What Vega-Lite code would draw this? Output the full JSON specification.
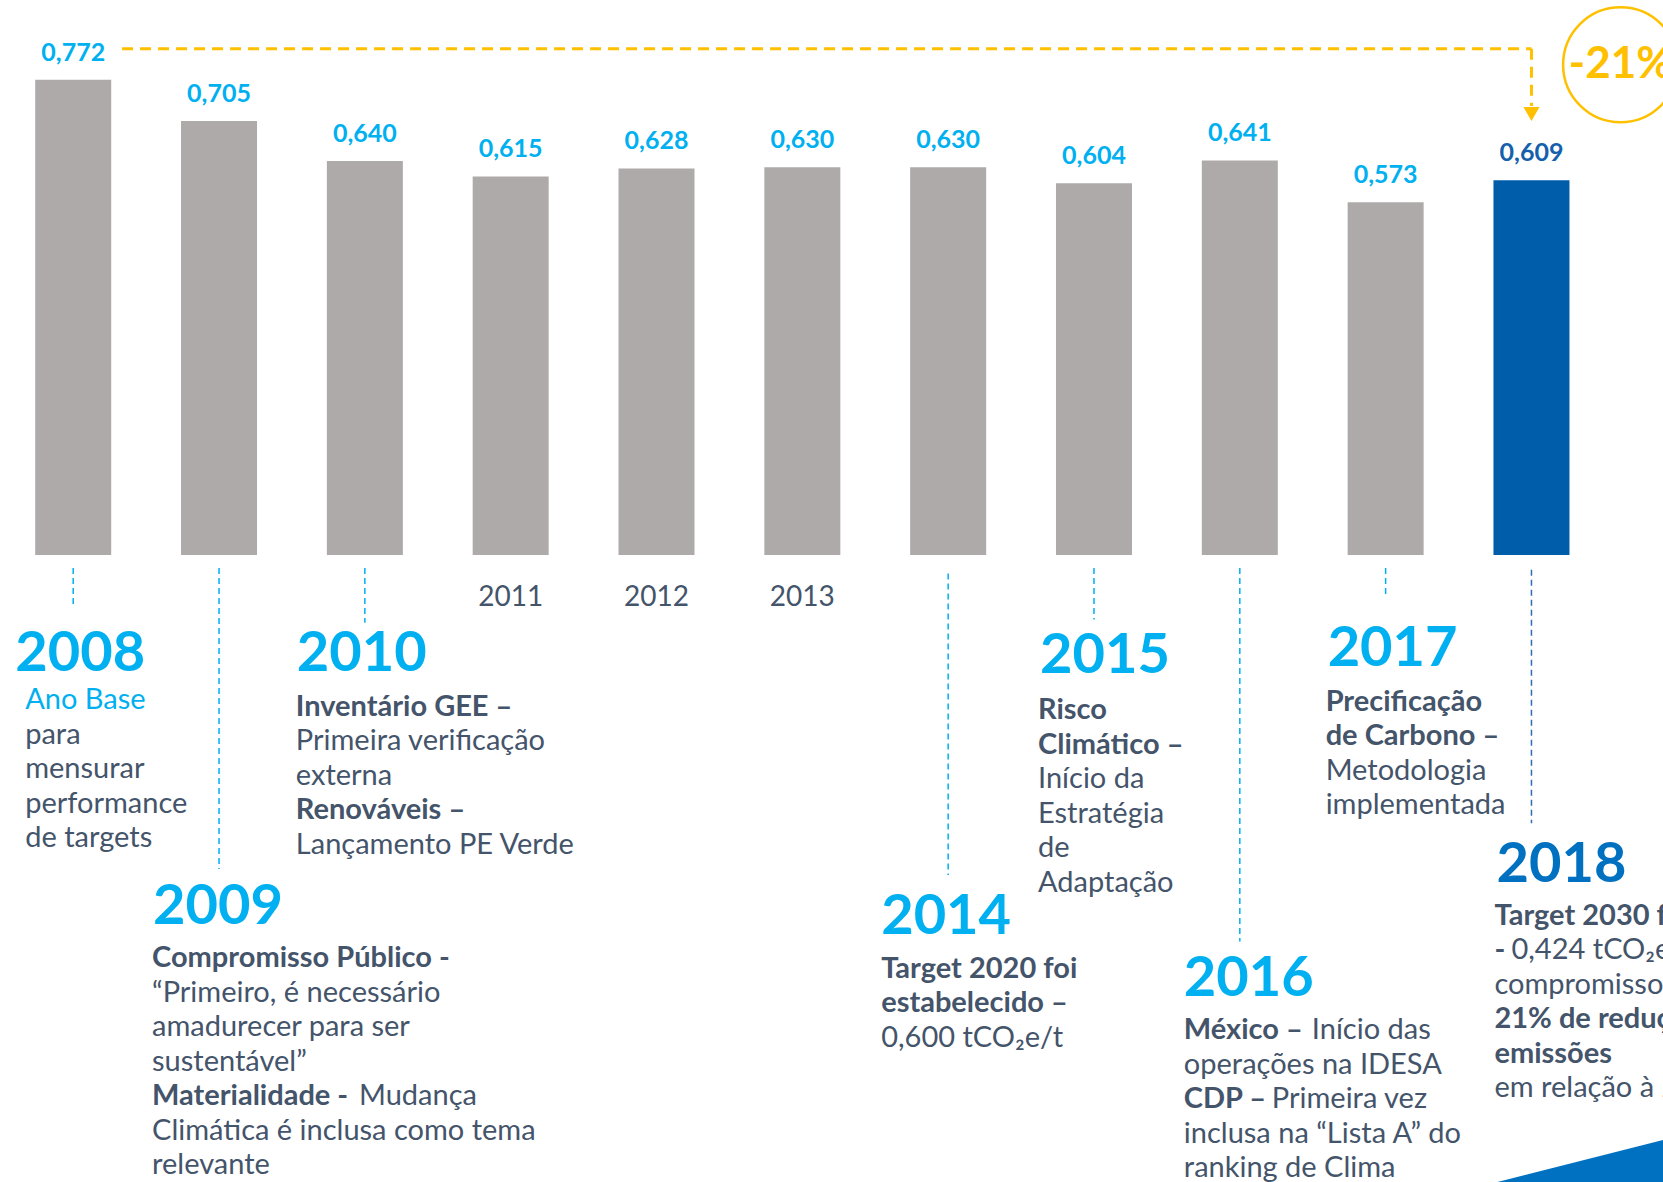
{
  "$schema": "https://vega.github.io/schema/vega-lite/v6.json",
  "width": 1663,
  "height": 1182,
  "padding": 0,
  "autosize": {"type": "none"},
  "background": "#ffffff",
  "config": {
    "view": {"stroke": null},
    "font": "Lato",
    "locale": {"number": {"decimal": ",", "thousands": ".", "grouping": [3], "currency": ["", ""]}}
  },
  "datasets": {
    "bars": [
      {"year": 2008, "v": 0.772},
      {"year": 2009, "v": 0.705},
      {"year": 2010, "v": 0.640},
      {"year": 2011, "v": 0.615},
      {"year": 2012, "v": 0.628},
      {"year": 2013, "v": 0.630},
      {"year": 2014, "v": 0.630},
      {"year": 2015, "v": 0.604},
      {"year": 2016, "v": 0.641},
      {"year": 2017, "v": 0.573},
      {"year": 2018, "v": 0.609}
    ],
    "links": [
      {"year": 2008, "v": -0.021, "v2": -0.08},
      {"year": 2009, "v": -0.021, "v2": -0.51},
      {"year": 2010, "v": -0.021, "v2": -0.11},
      {"year": 2014, "v": -0.03, "v2": -0.52},
      {"year": 2015, "v": -0.021, "v2": -0.105},
      {"year": 2016, "v": -0.021, "v2": -0.628},
      {"year": 2017, "v": -0.021, "v2": -0.07},
      {"year": 2018, "v": -0.024, "v2": -0.436}
    ],
    "heads": [
      {"year": 2008, "v": -0.1892, "txt": "2008"},
      {"year": 2009, "v": -0.5992, "txt": "2009"},
      {"year": 2010, "v": -0.1892, "txt": "2010"},
      {"year": 2014, "v": -0.6164, "txt": "2014"},
      {"year": 2015, "v": -0.1925, "txt": "2015"},
      {"year": 2016, "v": -0.7163, "txt": "2016"},
      {"year": 2017, "v": -0.1805, "txt": "2017"},
      {"year": 2018, "v": -0.5319, "txt": "2018"}
    ],
    "notes": [
      {"year": 2008, "v": -0.2510, "role": "base", "line": 0, "txt": "Ano Base"},
      {"year": 2008, "v": -0.2510, "role": "text", "line": 1, "txt": "para\nmensurar\nperformance\nde targets"},
      {"year": 2009, "v": -0.6699, "role": "topic", "line": 0, "txt": "Compromisso Público -"},
      {"year": 2009, "v": -0.6699, "role": "text", "line": 1, "txt": "“Primeiro, é necessário\namadurecer para ser\nsustentável”"},
      {"year": 2009, "v": -0.6699, "role": "topic", "line": 4, "txt": "Materialidade -"},
      {"year": 2009, "v": -0.6699, "role": "tail", "line": 4, "txt": "Mudança"},
      {"year": 2009, "v": -0.6699, "role": "text", "line": 5, "txt": "Climática é inclusa como tema\nrelevante"},
      {"year": 2010, "v": -0.2614, "role": "topic", "line": 0, "txt": "Inventário GEE –"},
      {"year": 2010, "v": -0.2614, "role": "text", "line": 1, "txt": "Primeira verificação\nexterna"},
      {"year": 2010, "v": -0.2614, "role": "topic", "line": 3, "txt": "Renováveis –"},
      {"year": 2010, "v": -0.2614, "role": "text", "line": 4, "txt": "Lançamento PE Verde"},
      {"year": 2014, "v": -0.6871, "role": "topic", "line": 0, "txt": "Target 2020 foi\nestabelecido  –"},
      {"year": 2014, "v": -0.6871, "role": "text", "line": 2, "txt": "0,600 tCO₂e/t"},
      {"year": 2015, "v": -0.2666, "role": "topic", "line": 0, "txt": "Risco\nClimático –"},
      {"year": 2015, "v": -0.2666, "role": "text", "line": 2, "txt": "Início da\nEstratégia\nde\nAdaptação"},
      {"year": 2016, "v": -0.7870, "role": "topic", "line": 0, "txt": "México –"},
      {"year": 2016, "v": -0.7870, "role": "tail", "line": 0, "txt": "Início das"},
      {"year": 2016, "v": -0.7870, "role": "text", "line": 1, "txt": "operações na IDESA"},
      {"year": 2016, "v": -0.7870, "role": "topic", "line": 2, "txt": "CDP –"},
      {"year": 2016, "v": -0.7870, "role": "tail", "line": 2, "txt": "Primeira vez"},
      {"year": 2016, "v": -0.7870, "role": "text", "line": 3, "txt": "inclusa na “Lista A” do\nranking de Clima"},
      {"year": 2017, "v": -0.2528, "role": "topic", "line": 0, "txt": "Precificação\nde Carbono –"},
      {"year": 2017, "v": -0.2528, "role": "text", "line": 2, "txt": "Metodologia\nimplementada"},
      {"year": 2018, "v": -0.6008, "role": "topic", "line": 0, "txt": "Target 2030 foi\n-"},
      {"year": 2018, "v": -0.6008, "role": "tail", "line": 1, "txt": "0,424 tCO₂e/t"},
      {"year": 2018, "v": -0.6008, "role": "text", "line": 2, "txt": "compromisso de"},
      {"year": 2018, "v": -0.6008, "role": "topic", "line": 3, "txt": "21% de redução de\nemissões"},
      {"year": 2018, "v": -0.6008, "role": "text", "line": 5, "txt": "em relação à 2008"}
    ],
    "bracket": [
      {"year": 2008.335, "year2": 2018, "v": 0.8224, "v2": 0.8224},
      {"year": 2018, "year2": 2018, "v": 0.8224, "v2": 0.7295}
    ],
    "arrow": [{"year": 2018, "v": 0.7165}],
    "badge": [{"year": 2018.611, "v": 0.7966, "txt": "-21%"}],
    "corner": [
      {"year": 2017.767, "v": -1.0187},
      {"year": 2018.902, "v": -0.9505}
    ]
  },
  "encoding": {
    "x": {"field": "year", "type": "quantitative", "scale": {"domain": [2007.498, 2018.902], "nice": false, "zero": false, "padding": 0}, "axis": null},
    "y": {"field": "v", "type": "quantitative", "scale": {"domain": [-1.0187, 0.9017], "nice": false, "zero": false, "padding": 0}, "axis": null}
  },
  "layer": [
    {
      "data": {"name": "bars"},
      "mark": {"type": "bar", "width": 76},
      "encoding": {
        "y2": {"datum": 0},
        "color": {"condition": {"test": "datum.year === 2018", "value": "#005DAA"}, "value": "#AEAAAA"}
      }
    },
    {
      "data": {"name": "bars"},
      "mark": {"type": "text", "baseline": "alphabetic", "align": "center", "dy": -19, "fontSize": 25, "fontWeight": "bold"},
      "encoding": {
        "text": {"field": "v", "type": "quantitative", "format": ".3f"},
        "color": {"condition": {"test": "datum.year === 2018", "value": "#1560AC"}, "value": "#00B0F0"}
      }
    },
    {
      "data": {"name": "bars"},
      "transform": [{"filter": "datum.year >= 2011 && datum.year <= 2013"}],
      "mark": {"type": "text", "baseline": "alphabetic", "align": "center", "fontSize": 28, "color": "#44546A"},
      "encoding": {
        "y": {"datum": -0.0822},
        "text": {"field": "year", "type": "nominal"}
      }
    },
    {
      "data": {"name": "links"},
      "mark": {"type": "rule", "strokeDash": [6, 4], "strokeWidth": 1.5},
      "encoding": {
        "y2": {"field": "v2"},
        "color": {"condition": {"test": "datum.year === 2018", "value": "#2F6DB5"}, "value": "#00B0F0"}
      }
    },
    {
      "data": {"name": "bracket"},
      "mark": {"type": "rule", "strokeDash": [11, 7], "strokeWidth": 3, "color": "#FFC000"},
      "encoding": {
        "x2": {"field": "year2"},
        "y2": {"field": "v2"}
      }
    },
    {
      "data": {"name": "arrow"},
      "mark": {"type": "point", "shape": "triangle-down", "filled": true, "size": 260, "color": "#FFC000", "opacity": 1},
      "encoding": {}
    },
    {
      "data": {"name": "badge"},
      "mark": {"type": "point", "shape": "circle", "filled": false, "size": 13200, "color": "#FFC000", "strokeWidth": 2.5, "opacity": 1},
      "encoding": {}
    },
    {
      "data": {"name": "badge"},
      "mark": {"type": "text", "align": "center", "baseline": "middle", "fontSize": 44, "fontWeight": "bold", "color": "#FFC000"},
      "encoding": {"text": {"field": "txt", "type": "nominal"}}
    },
    {
      "data": {"name": "corner"},
      "mark": {"type": "area", "color": "#0070C0", "opacity": 1},
      "encoding": {"y2": {"datum": -1.0187}}
    },
    {
      "data": {"name": "heads"},
      "mark": {"type": "text", "align": "left", "baseline": "alphabetic", "fontSize": 56, "fontWeight": "bold",
        "dx": {"expr": "[-58,-66,-68,0,0,0,-67,-54,-56,-58,-35][datum.year - 2008]"}},
      "encoding": {
        "text": {"field": "txt", "type": "nominal"},
        "color": {"condition": {"test": "datum.year === 2018", "value": "#0070C0"}, "value": "#00B0F0"}
      }
    },
    {
      "data": {"name": "notes"},
      "transform": [{"filter": "datum.role === 'topic'"}],
      "mark": {"type": "text", "align": "left", "baseline": "alphabetic", "fontSize": 29, "fontWeight": "bold", "color": "#44546A",
        "lineBreak": "\n", "lineHeight": 34.5,
        "dy": {"expr": "datum.line * 34.5"},
        "dx": {"expr": "[-48,-67,-69,0,0,0,-67,-56,-56,-60,-37][datum.year - 2008]"}},
      "encoding": {"text": {"field": "txt", "type": "nominal"}}
    },
    {
      "data": {"name": "notes"},
      "transform": [{"filter": "datum.role === 'text'"}],
      "mark": {"type": "text", "align": "left", "baseline": "alphabetic", "fontSize": 29, "color": "#44546A",
        "lineBreak": "\n", "lineHeight": 34.5,
        "dy": {"expr": "datum.line * 34.5"},
        "dx": {"expr": "[-48,-67,-69,0,0,0,-67,-56,-56,-60,-37][datum.year - 2008]"}},
      "encoding": {"text": {"field": "txt", "type": "nominal"}}
    },
    {
      "data": {"name": "notes"},
      "transform": [{"filter": "datum.role === 'base'"}],
      "mark": {"type": "text", "align": "left", "baseline": "alphabetic", "fontSize": 29, "color": "#00B0F0", "dx": -48,
        "dy": {"expr": "datum.line * 34.5"}},
      "encoding": {"text": {"field": "txt", "type": "nominal"}}
    },
    {
      "data": {"name": "notes"},
      "transform": [{"filter": "datum.role === 'tail'"}],
      "mark": {"type": "text", "align": "left", "baseline": "alphabetic", "fontSize": 29, "color": "#44546A",
        "dy": {"expr": "datum.line * 34.5"},
        "dx": {"expr": "datum.year === 2009 ? 140 : datum.year === 2018 ? -20 : (indexof(datum.txt, 'Início') === 0 ? 72 : 32)"}},
      "encoding": {"text": {"field": "txt", "type": "nominal"}}
    }
  ]
}
